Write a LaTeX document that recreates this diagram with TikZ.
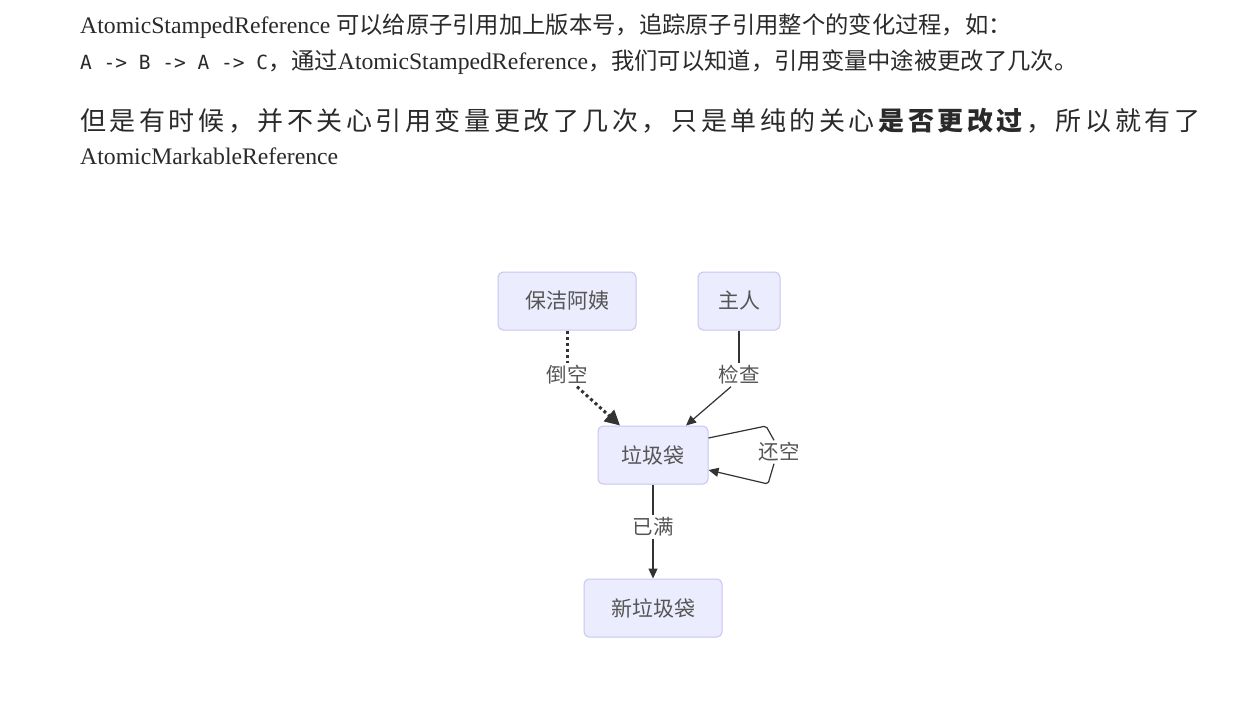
\documentclass[tikz,border=0pt]{standalone}
\usepackage{fontspec}
\setmainfont{Liberation Serif}
\newfontfamily\cjk{Noto Sans CJK SC}
\newfontfamily\monof{DejaVu Sans Mono}
\usetikzlibrary{arrows.meta,calc}
\definecolor{nodefill}{HTML}{ECECFF}
\definecolor{nodeline}{HTML}{C9C5F2}
\definecolor{inktext}{HTML}{2A2A2A}
\definecolor{diagtext}{HTML}{555555}
\definecolor{edgeink}{HTML}{333333}
\newcommand{\cjkbody}{\cjk\fontsize{23.3}{27}\selectfont}
\begin{document}
\begin{tikzpicture}[x=1pt,y=-1pt,
  para/.style={anchor=base west,inner sep=0pt,text=inktext},
  box/.style={draw=nodeline,fill=nodefill,line width=1pt,rounded corners=5pt,
    minimum height=58pt,inner sep=0pt,text=diagtext,font=\cjk\fontsize{21}{25}\selectfont},
  elabel/.style={fill=white,inner sep=2pt,text=diagtext,font=\cjk\fontsize{20.5}{24}\selectfont},
  flow/.style={draw=edgeink,line width=1.2pt},
  dotflow/.style={draw=edgeink,line width=3pt,dash pattern=on 3pt off 3pt},
  tipsmall/.style={-{Triangle[length=10pt,width=9pt]}},
  tipbig/.style={-{Triangle[length=15pt,width=15pt]}},
  ]
\useasboundingbox[fill=white] (0,0) rectangle (1238,709);

% ---- paragraph text ----
\node[para,font=\fontsize{23.7}{28}\selectfont] (l1) at (80,34)
  {AtomicStampedReference {\cjkbody 可以给原子引用加上版本号，追踪原子引用整个的变化过程，如：}};
\node[para,font=\fontsize{23.7}{28}\selectfont] (l2) at (80,69)
  {{\monof\fontsize{19.5}{24}\selectfont A -> B -> A -> C}{\cjkbody ，通过}AtomicStampedReference{\cjkbody ，我们可以知道，引用变量中途被更改了几次。}};
\node[para,font=\cjk\fontsize{26}{30}\selectfont] (l3) at (80,130)
  {\hbox to 1120pt{但\hfill 是\hfill 有\hfill 时\hfill 候\hfill ，\hfill 并\hfill 不\hfill 关\hfill 心\hfill 引\hfill 用\hfill 变\hfill 量\hfill 更\hfill 改\hfill 了\hfill 几\hfill 次\hfill ，\hfill 只\hfill 是\hfill 单\hfill 纯\hfill 的\hfill 关\hfill 心\hfill {\bfseries 是}\hfill {\bfseries 否}\hfill {\bfseries 更}\hfill {\bfseries 改}\hfill {\bfseries 过}\hfill ，\hfill 所\hfill 以\hfill 就\hfill 有\hfill 了}};
\node[para,font=\fontsize{23.7}{28}\selectfont] (l4) at (80,164) {AtomicMarkableReference};

% ---- flowchart nodes ----
\node[box,minimum width=138pt] (cleaner) at (567,301) {保洁阿姨};
\node[box,minimum width=82pt] (owner) at (739,301) {主人};
\node[box,minimum width=110pt] (bag) at (653,455) {垃圾袋};
\node[box,minimum width=138pt] (newbag) at (653,608) {新垃圾袋};

% ---- edge labels ----
\node[elabel] (pour) at (567,375) {倒空};
\node[elabel] (check) at (739,375) {检查};
\node[elabel] (back) at (779,452) {还空};
\node[elabel] (full) at (653,527) {已满};

% ---- edges ----
\draw[dotflow] (cleaner.south) -- (pour.north);
\draw[dotflow,tipbig] ($(pour.south)+(10,0)$) -- ($(bag.north)+(-33,0)$);

\draw[flow] (owner.south) -- (check.north);
\draw[flow,tipsmall] ($(check.south)+(-8,0)$) -- ($(bag.north)+(33,0)$);

\draw[flow,rounded corners=2pt] ($(bag.east)+(0,-17)$) -- (766,426) -- ($(back.north)+(-5,0)$);
\draw[flow,rounded corners=2pt,tipsmall] ($(back.south)+(-5,0)$) -- (768,484) -- ($(bag.east)+(0,15)$);

\draw[flow] (bag.south) -- (full.north);
\draw[flow,tipsmall] (full.south) -- (newbag.north);
\end{tikzpicture}
\end{document}
